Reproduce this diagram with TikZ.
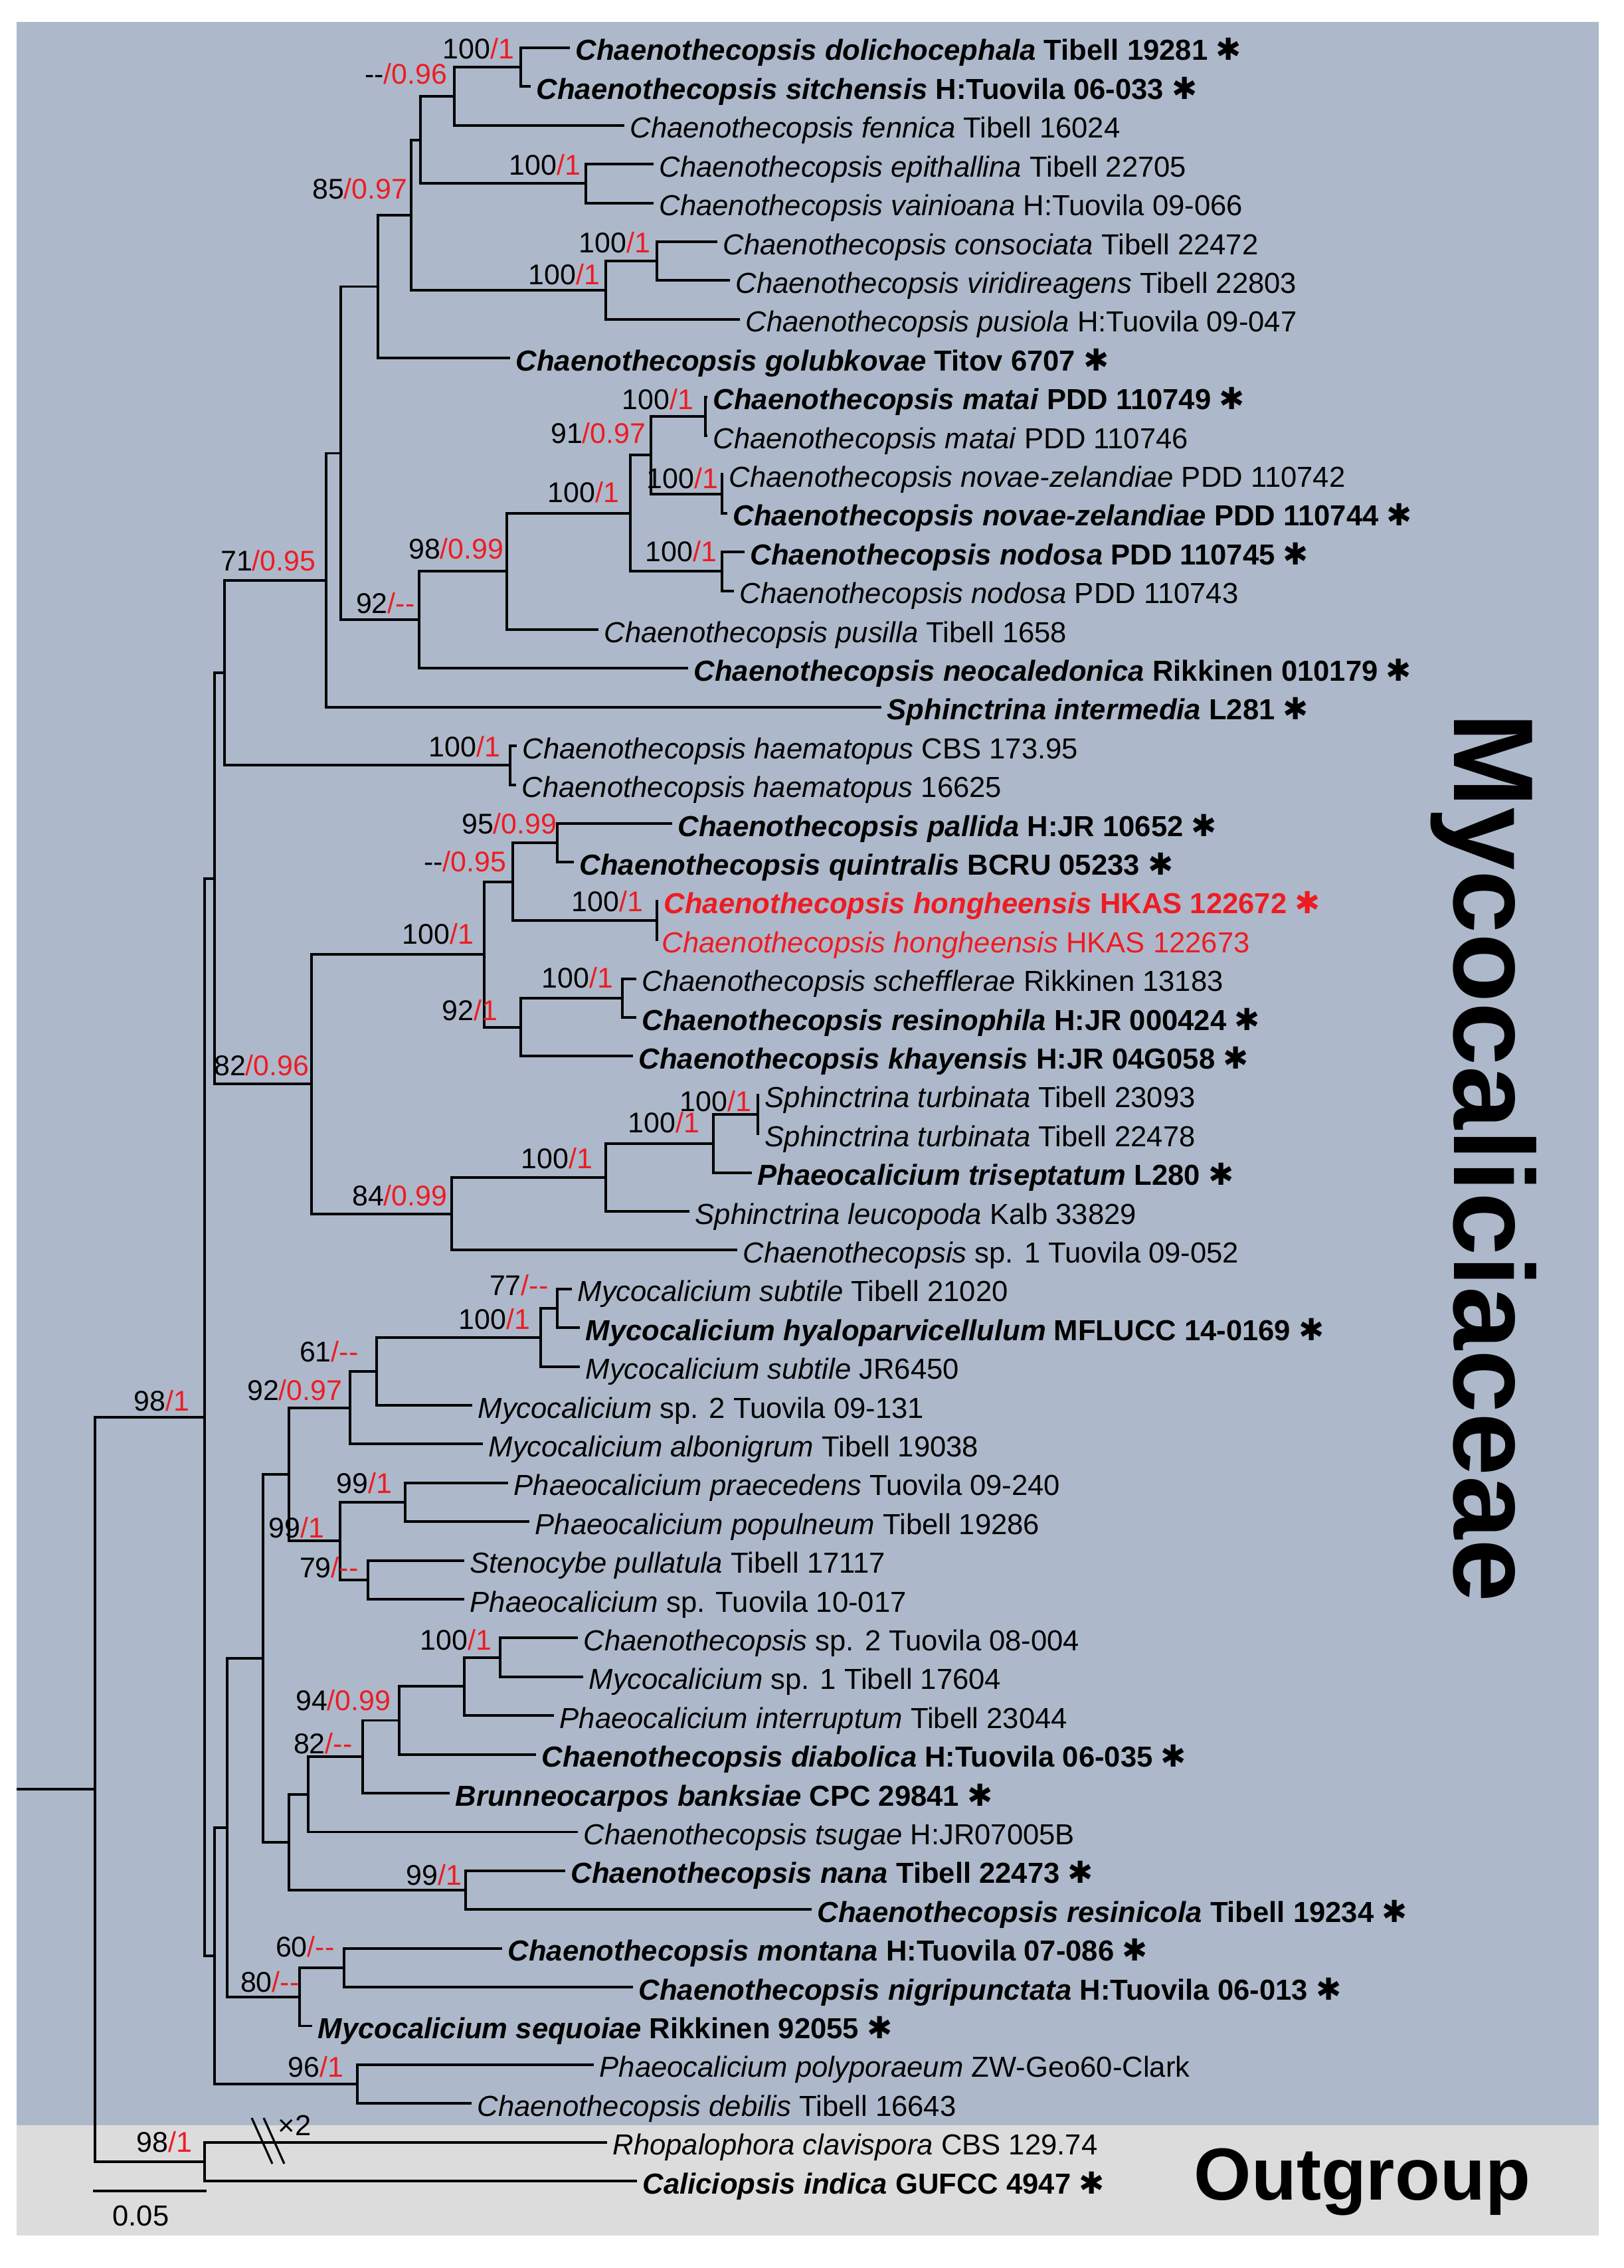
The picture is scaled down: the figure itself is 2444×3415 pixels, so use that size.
\documentclass[tikz,border=0pt]{standalone}
\usepackage{fontspec}
\setmainfont{Liberation Sans}
\newfontfamily\astfont{DejaVu Sans}
\definecolor{bgblue}{RGB}{173,185,202}
\definecolor{bggray}{RGB}{220,220,220}
\definecolor{supred}{RGB}{237,28,36}
\newcommand\myast{{\astfont\fontsize{13pt}{13pt}\selectfont ✱}}
\newcommand\itl[2]{\textit{#1} #2}
\newcommand\btl[2]{\textbf{\textit{#1} #2} \myast}
\newcommand\bsv[2]{#1\textcolor{supred}{/#2}}
\tikzset{
  br/.style={line width=1.1pt},
  brk/.style={line width=0.9pt},
  tiplab/.style={anchor=base west, inner sep=0pt, font=\fontsize{12.4pt}{14pt}\selectfont},
  suplab/.style={anchor=base east, inner sep=0pt, font=\fontsize{12.2pt}{14pt}\selectfont},
}
\begin{document}
\begin{tikzpicture}[x=0.01cm,y=-0.01cm]
\useasboundingbox (0,0) rectangle (2444,3415);
\fill[bgblue] (25,33) rectangle (2407,3200);
\fill[bggray] (25,3200) rectangle (2407,3366);

% tips
\coordinate (t1) at (858,72);
\coordinate (t2) at (799,130.4);
\coordinate (t3) at (940,188.8);
\coordinate (t4) at (984,247.2);
\coordinate (t5) at (984,305.6);
\coordinate (t6) at (1080,364);
\coordinate (t7) at (1099,422.4);
\coordinate (t8) at (1114,480.8);
\coordinate (t9) at (768,539.2);
\coordinate (t10) at (1065,597.6);
\coordinate (t11) at (1065,656);
\coordinate (t12) at (1089,714.4);
\coordinate (t13) at (1095,772.8);
\coordinate (t14) at (1121,831.2);
\coordinate (t15) at (1105,889.6);
\coordinate (t16) at (901,948);
\coordinate (t17) at (1036,1006.4);
\coordinate (t18) at (1327,1064.8);
\coordinate (t19) at (778,1123.2);
\coordinate (t20) at (777,1181.6);
\coordinate (t21) at (1012,1240);
\coordinate (t22) at (864,1298.4);
\coordinate (t23) at (991,1356.8);
\coordinate (t24) at (991,1415.2);
\coordinate (t25) at (958,1473.6);
\coordinate (t26) at (958,1532);
\coordinate (t27) at (953,1590.4);
\coordinate (t28) at (1143,1648.8);
\coordinate (t29) at (1143,1707.2);
\coordinate (t30) at (1132,1765.6);
\coordinate (t31) at (1038,1824);
\coordinate (t32) at (1110,1882.4);
\coordinate (t33) at (861,1940.8);
\coordinate (t34) at (873,1999.2);
\coordinate (t35) at (873,2057.6);
\coordinate (t36) at (711,2116);
\coordinate (t37) at (727,2174.4);
\coordinate (t38) at (765,2232.8);
\coordinate (t39) at (797,2291.2);
\coordinate (t40) at (699,2349.6);
\coordinate (t41) at (699,2408);
\coordinate (t42) at (870,2466.4);
\coordinate (t43) at (878,2524.8);
\coordinate (t44) at (834,2583.2);
\coordinate (t45) at (807,2641.6);
\coordinate (t46) at (677,2700);
\coordinate (t47) at (870,2758.4);
\coordinate (t48) at (851,2816.8);
\coordinate (t49) at (1222,2875.2);
\coordinate (t50) at (756,2933.6);
\coordinate (t51) at (953,2992);
\coordinate (t52) at (470,3050.4);
\coordinate (t53) at (894,3108.8);
\coordinate (t54) at (710,3167.2);
\coordinate (t55) at (914,3225.6);
\coordinate (t56) at (959,3284);

% internal nodes
\coordinate (nA) at (784,101.2);
\coordinate (nB) at (684,145);
\coordinate (nEV) at (882,276.4);
\coordinate (nC) at (633,210.7);
\coordinate (nCV) at (989,393.2);
\coordinate (nCVP) at (912,437);
\coordinate (nD) at (619,323.85);
\coordinate (nE) at (569,431.5);
\coordinate (nMat) at (1062,626.8);
\coordinate (nNZ) at (1087,743.6);
\coordinate (n91) at (980,685.2);
\coordinate (nNod) at (1087,860.4);
\coordinate (n100a) at (949,772.8);
\coordinate (n98) at (763,860.4);
\coordinate (n92) at (631,933.4);
\coordinate (nF) at (513,682.5);
\coordinate (nG) at (491,873.6);
\coordinate (nHae) at (768,1152.4);
\coordinate (nH) at (338,1013);
\coordinate (nPQ) at (839,1269.2);
\coordinate (nHon) at (989,1386);
\coordinate (n095) at (772,1327.6);
\coordinate (nSR) at (937,1502.8);
\coordinate (n92b) at (784,1546.6);
\coordinate (n100b) at (729,1437.1);
\coordinate (nTur) at (1141,1678);
\coordinate (nTT) at (1074,1721.8);
\coordinate (nTTL) at (912,1772.9);
\coordinate (n84) at (680,1827.65);
\coordinate (n82) at (469,1632.4);
\coordinate (nI) at (323,1322.7);
\coordinate (n77) at (839,1970);
\coordinate (nS) at (814,2013.8);
\coordinate (nR) at (567,2064.9);
\coordinate (nQ) at (527,2119.65);
\coordinate (nV) at (610,2262);
\coordinate (nW) at (554,2378.8);
\coordinate (nU) at (512,2320.4);
\coordinate (nO) at (435,2220);
\coordinate (nAB) at (753,2495.6);
\coordinate (nAA) at (699,2539.4);
\coordinate (nZ) at (601,2590.5);
\coordinate (nY) at (546,2645.25);
\coordinate (nX) at (464,2701.8);
\coordinate (nNana) at (701,2846);
\coordinate (nP) at (435,2773.9);
\coordinate (nN) at (396,2496.95);
\coordinate (nAD) at (518,2962.8);
\coordinate (nAC) at (451,3006.6);
\coordinate (nM) at (342,2751.8);
\coordinate (nAE) at (538,3138);
\coordinate (nK) at (323,2944.9);
\coordinate (nJ) at (308,2133.8);
\coordinate (nOut) at (308,3254.8);
\coordinate (nL) at (143,2694.3);
\coordinate (root) at (25,2694.3);

\foreach \p/\c in {nA/t1,nA/t2,nB/nA,nB/t3,nEV/t4,nEV/t5,nC/nB,nC/nEV,nCV/t6,nCV/t7,
  nCVP/nCV,nCVP/t8,nD/nC,nD/nCVP,nE/nD,nE/t9,nMat/t10,nMat/t11,nNZ/t12,nNZ/t13,
  n91/nMat,n91/nNZ,nNod/t14,nNod/t15,n100a/n91,n100a/nNod,n98/n100a,n98/t16,
  n92/n98,n92/t17,nF/nE,nF/n92,nG/nF,nG/t18,nHae/t19,nHae/t20,nH/nG,nH/nHae,
  nPQ/t21,nPQ/t22,nHon/t23,nHon/t24,n095/nPQ,n095/nHon,nSR/t25,nSR/t26,
  n92b/nSR,n92b/t27,n100b/n095,n100b/n92b,nTur/t28,nTur/t29,nTT/nTur,nTT/t30,
  nTTL/nTT,nTTL/t31,n84/nTTL,n84/t32,n82/n100b,n82/n84,nI/nH,nI/n82,
  n77/t33,n77/t34,nS/n77,nS/t35,nR/nS,nR/t36,nQ/nR,nQ/t37,nV/t38,nV/t39,
  nW/t40,nW/t41,nU/nV,nU/nW,nO/nQ,nO/nU,nAB/t42,nAB/t43,nAA/nAB,nAA/t44,
  nZ/nAA,nZ/t45,nY/nZ,nY/t46,nX/nY,nX/t47,nNana/t48,nNana/t49,nP/nX,nP/nNana,
  nN/nO,nN/nP,nAD/t50,nAD/t51,nAC/nAD,nAC/t52,nM/nN,nM/nAC,nAE/t53,nAE/t54,
  nK/nM,nK/nAE,nJ/nI,nJ/nK,nOut/t55,nOut/t56,nL/nJ,nL/nOut,root/nL}
  \draw[br] (\p) |- (\c);

% tip labels
\node[tiplab] (L1) at (866,91) {\btl{Chaenothecopsis dolichocephala}{Tibell 19281}};
\node[tiplab] (L2) at (807,149.4) {\btl{Chaenothecopsis sitchensis}{H:Tuovila 06-033}};
\node[tiplab] (L3) at (948,207.8) {\itl{Chaenothecopsis fennica}{Tibell 16024}};
\node[tiplab] (L4) at (992,266.2) {\itl{Chaenothecopsis epithallina}{Tibell 22705}};
\node[tiplab] (L5) at (992,324.6) {\itl{Chaenothecopsis vainioana}{H:Tuovila 09-066}};
\node[tiplab] (L6) at (1088,383) {\itl{Chaenothecopsis consociata}{Tibell 22472}};
\node[tiplab] (L7) at (1107,441.4) {\itl{Chaenothecopsis viridireagens}{Tibell 22803}};
\node[tiplab] (L8) at (1122,499.8) {\itl{Chaenothecopsis pusiola}{H:Tuovila 09-047}};
\node[tiplab] (L9) at (776,558.2) {\btl{Chaenothecopsis golubkovae}{Titov 6707}};
\node[tiplab] (L10) at (1073,616.6) {\btl{Chaenothecopsis matai}{PDD 110749}};
\node[tiplab] (L11) at (1073,675) {\itl{Chaenothecopsis matai}{PDD 110746}};
\node[tiplab] (L12) at (1097,733.4) {\itl{Chaenothecopsis novae-zelandiae}{PDD 110742}};
\node[tiplab] (L13) at (1103,791.8) {\btl{Chaenothecopsis novae-zelandiae}{PDD 110744}};
\node[tiplab] (L14) at (1129,850.2) {\btl{Chaenothecopsis nodosa}{PDD 110745}};
\node[tiplab] (L15) at (1113,908.6) {\itl{Chaenothecopsis nodosa}{PDD 110743}};
\node[tiplab] (L16) at (909,967) {\itl{Chaenothecopsis pusilla}{Tibell 1658}};
\node[tiplab] (L17) at (1044,1025.4) {\btl{Chaenothecopsis neocaledonica}{Rikkinen 010179}};
\node[tiplab] (L18) at (1335,1083.8) {\btl{Sphinctrina intermedia}{L281}};
\node[tiplab] (L19) at (786,1142.2) {\itl{Chaenothecopsis haematopus}{CBS 173.95}};
\node[tiplab] (L20) at (785,1200.6) {\itl{Chaenothecopsis haematopus}{16625}};
\node[tiplab] (L21) at (1020,1259) {\btl{Chaenothecopsis pallida}{H:JR 10652}};
\node[tiplab] (L22) at (872,1317.4) {\btl{Chaenothecopsis quintralis}{BCRU 05233}};
\node[tiplab,text=supred] (L23) at (999,1375.8) {\btl{Chaenothecopsis hongheensis}{HKAS 122672}};
\node[tiplab,text=supred] (L24) at (996,1434.2) {\itl{Chaenothecopsis hongheensis}{HKAS 122673}};
\node[tiplab] (L25) at (966,1492.6) {\itl{Chaenothecopsis schefflerae}{Rikkinen 13183}};
\node[tiplab] (L26) at (966,1551) {\btl{Chaenothecopsis resinophila}{H:JR 000424}};
\node[tiplab] (L27) at (961,1609.4) {\btl{Chaenothecopsis khayensis}{H:JR 04G058}};
\node[tiplab] (L28) at (1151,1667.8) {\itl{Sphinctrina turbinata}{Tibell 23093}};
\node[tiplab] (L29) at (1151,1726.2) {\itl{Sphinctrina turbinata}{Tibell 22478}};
\node[tiplab] (L30) at (1140,1784.6) {\btl{Phaeocalicium triseptatum}{L280}};
\node[tiplab] (L31) at (1046,1843) {\itl{Sphinctrina leucopoda}{Kalb 33829}};
\node[tiplab] (L32) at (1118,1901.4) {\itl{Chaenothecopsis}{sp. 1 Tuovila 09-052}};
\node[tiplab] (L33) at (869,1959.8) {\itl{Mycocalicium subtile}{Tibell 21020}};
\node[tiplab] (L34) at (881,2018.2) {\btl{Mycocalicium hyaloparvicellulum}{MFLUCC 14-0169}};
\node[tiplab] (L35) at (881,2076.6) {\itl{Mycocalicium subtile}{JR6450}};
\node[tiplab] (L36) at (719,2135) {\itl{Mycocalicium}{sp. 2 Tuovila 09-131}};
\node[tiplab] (L37) at (735,2193.4) {\itl{Mycocalicium albonigrum}{Tibell 19038}};
\node[tiplab] (L38) at (773,2251.8) {\itl{Phaeocalicium praecedens}{Tuovila 09-240}};
\node[tiplab] (L39) at (805,2310.2) {\itl{Phaeocalicium populneum}{Tibell 19286}};
\node[tiplab] (L40) at (707,2368.6) {\itl{Stenocybe pullatula}{Tibell 17117}};
\node[tiplab] (L41) at (707,2427) {\itl{Phaeocalicium}{sp. Tuovila 10-017}};
\node[tiplab] (L42) at (878,2485.4) {\itl{Chaenothecopsis}{sp. 2 Tuovila 08-004}};
\node[tiplab] (L43) at (886,2543.8) {\itl{Mycocalicium}{sp. 1 Tibell 17604}};
\node[tiplab] (L44) at (842,2602.2) {\itl{Phaeocalicium interruptum}{Tibell 23044}};
\node[tiplab] (L45) at (815,2660.6) {\btl{Chaenothecopsis diabolica}{H:Tuovila 06-035}};
\node[tiplab] (L46) at (685,2719) {\btl{Brunneocarpos banksiae}{CPC 29841}};
\node[tiplab] (L47) at (878,2777.4) {\itl{Chaenothecopsis tsugae}{H:JR07005B}};
\node[tiplab] (L48) at (859,2835.8) {\btl{Chaenothecopsis nana}{Tibell 22473}};
\node[tiplab] (L49) at (1230,2894.2) {\btl{Chaenothecopsis resinicola}{Tibell 19234}};
\node[tiplab] (L50) at (764,2952.6) {\btl{Chaenothecopsis montana}{H:Tuovila 07-086}};
\node[tiplab] (L51) at (961,3011) {\btl{Chaenothecopsis nigripunctata}{H:Tuovila 06-013}};
\node[tiplab] (L52) at (478,3069.4) {\btl{Mycocalicium sequoiae}{Rikkinen 92055}};
\node[tiplab] (L53) at (902,3127.8) {\itl{Phaeocalicium polyporaeum}{ZW-Geo60-Clark}};
\node[tiplab] (L54) at (718,3186.2) {\itl{Chaenothecopsis debilis}{Tibell 16643}};
\node[tiplab] (L55) at (922,3244.6) {\itl{Rhopalophora clavispora}{CBS 129.74}};
\node[tiplab] (L56) at (967,3303) {\btl{Caliciopsis indica}{GUFCC 4947}};

% support values
\node[suplab] (sA) at (775,89) {\bsv{100}{1}};
\node[suplab] (sB) at (674,127) {\bsv{-{}-}{0.96}};
\node[suplab] (sEV) at (875,264) {\bsv{100}{1}};
\node[suplab] (sD) at (614,299) {\bsv{85}{0.97}};
\node[suplab] (sCV) at (980,380) {\bsv{100}{1}};
\node[suplab] (sCVP) at (904,428) {\bsv{100}{1}};
\node[suplab] (sMat) at (1045,616) {\bsv{100}{1}};
\node[suplab] (s91) at (973,667) {\bsv{91}{0.97}};
\node[suplab] (sNZ) at (1082,735) {\bsv{100}{1}};
\node[suplab] (s100a) at (933,756) {\bsv{100}{1}};
\node[suplab] (sNod) at (1080,845) {\bsv{100}{1}};
\node[suplab] (s98) at (759,841) {\bsv{98}{0.99}};
\node[suplab] (s92) at (625,923) {\bsv{92}{-{}-}};
\node[suplab] (sG) at (476,859) {\bsv{71}{0.95}};
\node[suplab] (sHae) at (754,1139) {\bsv{100}{1}};
\node[suplab] (sPQ) at (839,1255) {\bsv{95}{0.99}};
\node[suplab] (s095) at (763,1312) {\bsv{-{}-}{0.95}};
\node[suplab] (sHon) at (969,1372) {\bsv{100}{1}};
\node[suplab] (s100b) at (714,1421) {\bsv{100}{1}};
\node[suplab] (sSR) at (924,1487) {\bsv{100}{1}};
\node[suplab] (s92b) at (750,1536) {\bsv{92}{1}};
\node[suplab] (s82) at (466,1619) {\bsv{82}{0.96}};
\node[suplab] (sTur) at (1132,1673) {\bsv{100}{1}};
\node[suplab] (sTT) at (1054,1705) {\bsv{100}{1}};
\node[suplab] (sTTL) at (893,1759) {\bsv{100}{1}};
\node[suplab] (s84) at (674,1815) {\bsv{84}{0.99}};
\node[suplab] (s77) at (826,1950) {\bsv{77}{-{}-}};
\node[suplab] (sS) at (799,2001) {\bsv{100}{1}};
\node[suplab] (sR) at (540,2050) {\bsv{61}{-{}-}};
\node[suplab] (sQ) at (516,2108) {\bsv{92}{0.97}};
\node[suplab] (sL) at (286,2124) {\bsv{98}{1}};
\node[suplab] (sV) at (591,2248) {\bsv{99}{1}};
\node[suplab] (sU) at (489,2315) {\bsv{99}{1}};
\node[suplab] (sW) at (540,2375) {\bsv{79}{-{}-}};
\node[suplab] (sAB) at (741,2484) {\bsv{100}{1}};
\node[suplab] (sZ) at (589,2575) {\bsv{94}{0.99}};
\node[suplab] (sY) at (531,2640) {\bsv{82}{-{}-}};
\node[suplab] (sNana) at (696,2838) {\bsv{99}{1}};
\node[suplab] (sAD) at (504,2946) {\bsv{60}{-{}-}};
\node[suplab] (sAC) at (451,2999) {\bsv{80}{-{}-}};
\node[suplab] (sAE) at (518,3127) {\bsv{96}{1}};
\node[suplab] (sOut) at (290,3240) {\bsv{98}{1}};

% branch break
\coordinate (k1a) at (379,3189); \coordinate (k1b) at (410,3258);
\coordinate (k2a) at (397,3189); \coordinate (k2b) at (428,3258);
\draw[brk] (k1a) -- (k1b);
\draw[brk] (k2a) -- (k2b);
\node[tiplab] (x2) at (418,3215) {×2};

% scale bar
\coordinate (sb1) at (140,3299); \coordinate (sb2) at (311,3299);
\draw[br] (sb1) -- (sb2);
\node[tiplab,anchor=base] (sbl) at (212,3351) {0.05};

% group labels
\node[rotate=-90,anchor=base,inner sep=0pt,font=\fontsize{48.6pt}{50pt}\selectfont\bfseries] (myco) at (2189,1743) {Mycocaliciaceae};
\node[anchor=base west,inner sep=0pt,font=\fontsize{31.6pt}{33pt}\selectfont\bfseries] (outg) at (1797,3312) {Outgroup};
\end{tikzpicture}
\end{document}
